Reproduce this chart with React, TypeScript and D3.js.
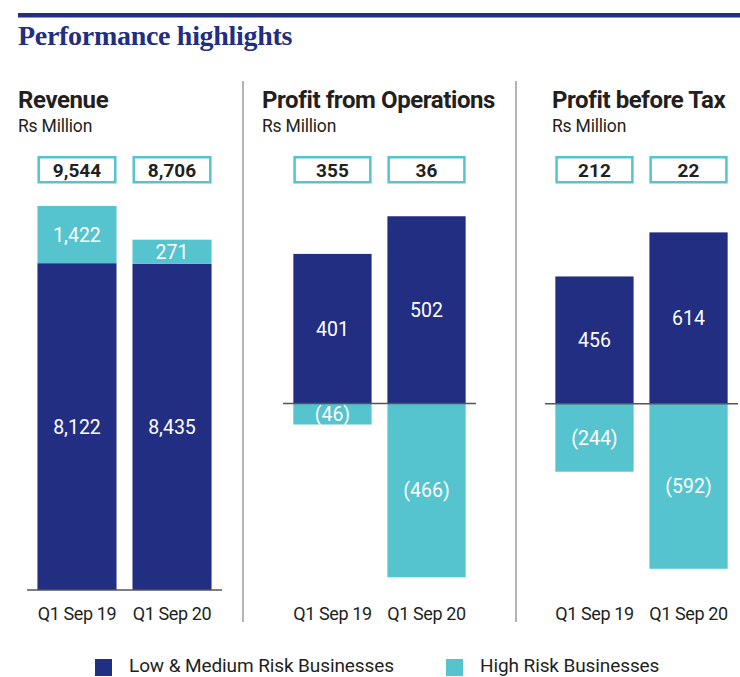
import React from 'react';
import * as d3 from 'd3';

const periods = ['Q1 Sep 19', 'Q1 Sep 20'];
const revenueLow = [8122, 8435];
const revenueHigh = [1422, 271];
const revenueTotal = [9544, 8706];
const opsLow = [401, 502];
const opsHigh = [-46, -466];
const opsTotal = [355, 36];
const pbtLow = [456, 614];
const pbtHigh = [-244, -592];
const pbtTotal = [212, 22];
const panelTitles = ['Revenue', 'Profit from Operations', 'Profit before Tax'];
const unitLabel = 'Rs Million';
const legendLabels = ['Low & Medium Risk Businesses', 'High Risk Businesses'];
const mainTitle = 'Performance highlights';

const NAVY = '#222e81';
const TEAL = '#55c4cf';
const DARK = '#231f20';
const SANS = 'Roboto, "Open Sans", sans-serif';
const MIN_SEG = 24; // minimum drawn height so a segment can hold its label

const fmt = (v: number) => (v < 0 ? `(${d3.format(',')(-v)})` : d3.format(',')(v));

type Panel = {
  title: string;
  titleX: number;
  low: number[];
  high: number[];
  total: number[];
  stacked: boolean;
  xRange: [number, number];
  yDomain: [number, number];
  yRange: [number, number];
};

const panels: Panel[] = [
  { title: panelTitles[0], titleX: 18, low: revenueLow, high: revenueHigh, total: revenueTotal, stacked: true,
    xRange: [27, 222], yDomain: [0, 10000], yRange: [590, 187.6] },
  { title: panelTitles[1], titleX: 262, low: opsLow, high: opsHigh, total: opsTotal, stacked: false,
    xRange: [283, 476], yDomain: [-500, 600], yRange: [590, 179.7] },
  { title: panelTitles[2], titleX: 552, low: pbtLow, high: pbtHigh, total: pbtTotal, stacked: false,
    xRange: [545, 738], yDomain: [-600, 700], yRange: [571, 208.4] },
];

function PanelChart({ p }: { p: Panel }) {
  const x = d3.scaleBand<string>().domain(periods).range(p.xRange).paddingInner(0.168).paddingOuter(0.11);
  const y = d3.scaleLinear().domain(p.yDomain).range(p.yRange);
  const bw = x.bandwidth();
  const segs: { key: string; x: number; y0: number; y1: number; color: string; v: number }[] = [];
  periods.forEach((per, i) => {
    const bx = x(per)!;
    const base = y(0);
    if (p.stacked) {
      const top = y(p.low[i] + p.high[i]);
      const split = Math.max(y(p.low[i]), top + MIN_SEG);
      segs.push({ key: per + 'l', x: bx, y0: base, y1: split, color: NAVY, v: p.low[i] });
      segs.push({ key: per + 'h', x: bx, y0: split, y1: top, color: TEAL, v: p.high[i] });
    } else {
      const lowEnd = y(p.low[i]);
      const highEnd = Math.max(y(p.high[i]), base + MIN_SEG - 3);
      segs.push({ key: per + 'l', x: bx, y0: base, y1: lowEnd, color: NAVY, v: p.low[i] });
      segs.push({ key: per + 'h', x: bx, y0: base, y1: highEnd, color: TEAL, v: p.high[i] });
    }
  });
  return (
    <g>
      <text x={p.titleX} y={108} fontFamily={SANS} fontWeight={700} fontSize={24} letterSpacing={-0.4} fill={DARK}>{p.title}</text>
      <text x={p.titleX} y={132} fontFamily={SANS} fontSize={17.5} letterSpacing={-0.2} fill={DARK}>{unitLabel}</text>
      {periods.map((per, i) => (
        <g key={per + 'box'}>
          <rect x={x(per)! + 1.25} y={157.25} width={bw - 2.5} height={25} fill="#fff" stroke={TEAL} strokeWidth={2.5} />
          <text x={x(per)! + bw / 2} y={176.5} textAnchor="middle" fontFamily={SANS} fontWeight={700} fontSize={19} fill={DARK}>{fmt(p.total[i])}</text>
          <text x={x(per)! + bw / 2} y={620} textAnchor="middle" fontFamily={SANS} fontSize={18} letterSpacing={-0.4} fill={DARK}>{per}</text>
        </g>
      ))}
      {segs.map(s => (
        <rect key={s.key} x={s.x} y={Math.min(s.y0, s.y1)} width={bw} height={Math.abs(s.y1 - s.y0)} fill={s.color} />
      ))}
      <line x1={p.xRange[0]} x2={p.xRange[1]} y1={y(0)} y2={y(0)} stroke="#555" strokeWidth={1.5} />
      {segs.map(s => (
        <text key={s.key + 't'} x={s.x + bw / 2} y={(s.y0 + s.y1) / 2} dy="0.36em" textAnchor="middle" fontFamily={SANS} fontSize={19.5} fill="#fff">{fmt(s.v)}</text>
      ))}
    </g>
  );
}

export default function App() {
  return (
    <svg width={740} height={677} style={{ position: 'absolute', left: 0, top: 0, background: '#fff' }}>
      <rect x={18} y={13} width={722} height={4.5} fill={NAVY} />
      <text x={18} y={45} fontFamily='"Liberation Serif", serif' fontWeight={700} fontSize={28} letterSpacing={-0.3} fill={NAVY}>{mainTitle}</text>
      <line x1={243} x2={243} y1={81} y2={622} stroke="#9a9a9a" strokeWidth={1.5} />
      <line x1={516} x2={516} y1={81} y2={622} stroke="#9a9a9a" strokeWidth={1.5} />
      {panels.map(p => <PanelChart key={p.title} p={p} />)}
      <rect x={95} y={659} width={17} height={17} fill={NAVY} />
      <text x={129} y={672} fontFamily={SANS} fontSize={19} letterSpacing={-0.1} fill={DARK}>{legendLabels[0]}</text>
      <rect x={446} y={659} width={17} height={17} fill={TEAL} />
      <text x={480} y={672} fontFamily={SANS} fontSize={19} letterSpacing={-0.1} fill={DARK}>{legendLabels[1]}</text>
    </svg>
  );
}
